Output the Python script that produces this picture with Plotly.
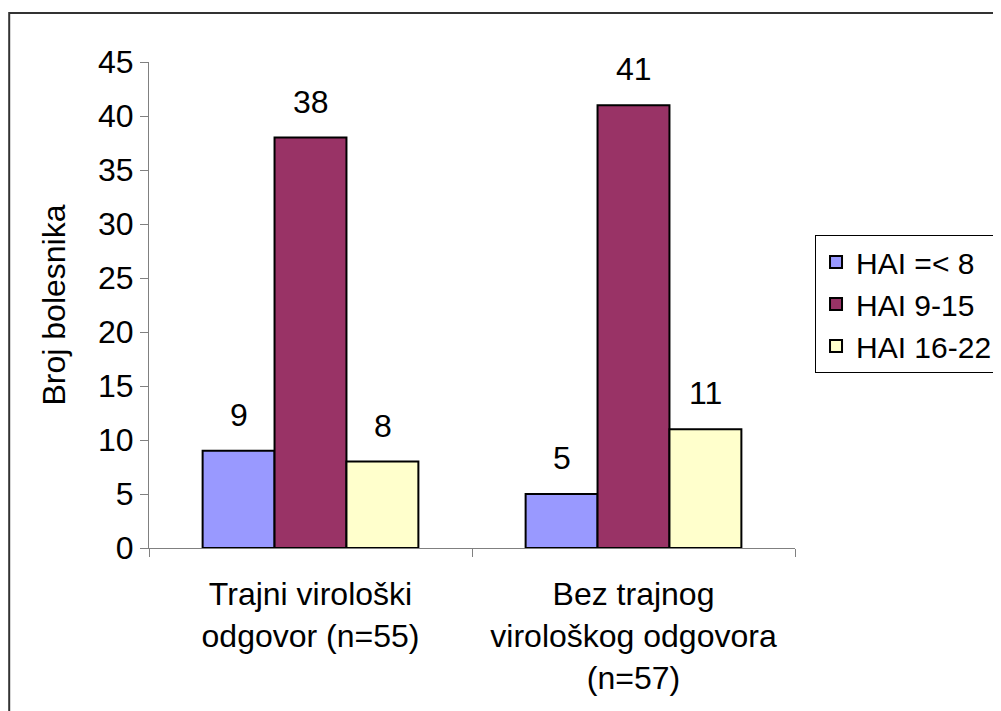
import plotly.graph_objects as go

categories = ["Trajni virološki<br>odgovor (n=55)", "Bez trajnog<br>virološkog odgovora<br>(n=57)"]
series_names = ["HAI =< 8", "HAI 9-15", "HAI 16-22"]
hai_le8 = [9, 5]
hai_9_15 = [38, 41]
hai_16_22 = [8, 11]
series_values = [hai_le8, hai_9_15, hai_16_22]
colors = ["#9999FF", "#993366", "#FFFFCC"]
y_ticks = [0, 5, 10, 15, 20, 25, 30, 35, 40, 45]

FONT = "Liberation Sans, Arial, sans-serif"
FS = 32
LFS = 30

fig = go.Figure()
for name, vals, col in zip(series_names, series_values, colors):
    fig.add_trace(go.Bar(
        name=name, x=categories, y=vals,
        marker=dict(color=col, line=dict(color="black", width=2)),
        cliponaxis=False,
    ))

# data labels above bars
bar_px = 72
annotations = []
for i, vals in enumerate(series_values):
    for cat, v in zip(categories, vals):
        annotations.append(dict(
            x=cat, y=v, xref="x", yref="y", text=str(v), showarrow=False,
            xshift=(i - 1) * bar_px, yshift=16, yanchor="bottom",
            font=dict(family=FONT, size=FS, color="black"),
        ))

fig.update_layout(
    width=1001, height=711,
    margin=dict(l=141, r=213, t=54, b=171),
    paper_bgcolor="white", plot_bgcolor="white",
    barmode="group", bargap=0.332, bargroupgap=0,
    font=dict(family=FONT, size=FS, color="black"),
    showlegend=True,
    legend=dict(
        x=1.0294, y=0.644, xanchor="left", yanchor="top",
        bordercolor="black", borderwidth=1, bgcolor="white",
        font=dict(family=FONT, size=LFS, color="black"),
        tracegroupgap=0, itemsizing="constant",
    ),
    annotations=annotations,
    shapes=[dict(
        type="rect", xref="paper", yref="paper",
        x0=-0.2164, x1=1.45, y0=-0.45, y1=1.1008,
        line=dict(color="#333333", width=2), fillcolor="rgba(0,0,0,0)", layer="below",
    )],
)
fig.update_xaxes(
    showline=True, linecolor="#808080", linewidth=1,
    ticks="outside", tickson="boundaries", ticklen=8, tickcolor="#808080",
    ticklabelstandoff=18,
    showgrid=False, tickfont=dict(family=FONT, size=FS, color="black"),
)
fig.update_yaxes(
    range=[0, 45], tickvals=y_ticks,
    showline=True, linecolor="#808080", linewidth=1,
    ticks="outside", ticklen=8, tickcolor="#808080",
    showgrid=False, zeroline=False,
    tickfont=dict(family=FONT, size=FS, color="black"),
    title=dict(text="Broj bolesnika", font=dict(family=FONT, size=FS, color="black"), standoff=22),
)

fig.write_html("out.html")
